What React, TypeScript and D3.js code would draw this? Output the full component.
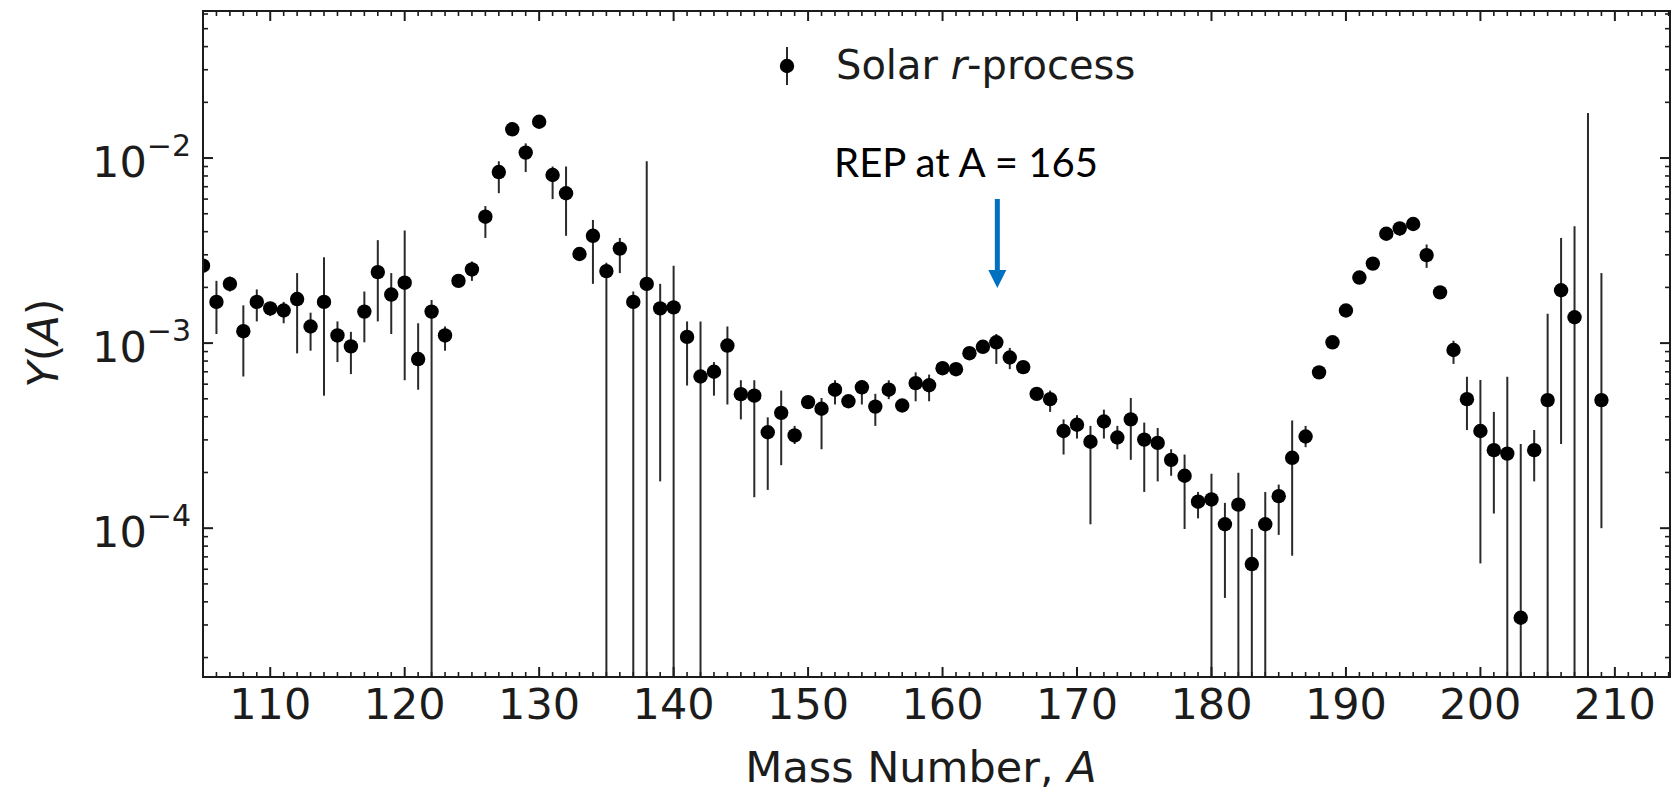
import React from "react";
import * as d3 from "d3";

// ---------- data ----------
const massNumbers = [
  105, 106, 107, 108, 109, 110, 111, 112, 113, 114, 115, 116, 117, 118, 119, 120,
  121, 122, 123, 124, 125, 126, 127, 128, 129, 130, 131, 132, 133, 134, 135, 136,
  137, 138, 139, 140, 141, 142, 143, 144, 145, 146, 147, 148, 149, 150, 151, 152,
  153, 154, 155, 156, 157, 158, 159, 160, 161, 162, 163, 164, 165, 166, 167, 168,
  169, 170, 171, 172, 173, 174, 175, 176, 177, 178, 179, 180, 181, 182, 183, 184,
  185, 186, 187, 188, 189, 190, 191, 192, 193, 194, 195, 196, 197, 198, 199, 200,
  201, 202, 203, 204, 205, 206, 207, 208, 209,
];

const yields = [
  2.62e-3, 1.67e-3, 2.09e-3, 1.16e-3, 1.67e-3, 1.54e-3, 1.5e-3, 1.73e-3, 1.23e-3, 1.67e-3, 1.1e-3, 9.6e-4, 1.48e-3, 2.42e-3, 1.83e-3, 2.12e-3,
  8.2e-4, 1.48e-3, 1.1e-3, 2.17e-3, 2.5e-3, 4.82e-3, 8.4e-3, 1.43e-2, 1.07e-2, 1.57e-2, 8.1e-3, 6.45e-3, 3.03e-3, 3.8e-3, 2.45e-3, 3.24e-3,
  1.67e-3, 2.09e-3, 1.54e-3, 1.56e-3, 1.08e-3, 6.6e-4, 7.0e-4, 9.7e-4, 5.3e-4, 5.2e-4, 3.3e-4, 4.2e-4, 3.17e-4, 4.8e-4, 4.42e-4, 5.6e-4,
  4.85e-4, 5.77e-4, 4.54e-4, 5.6e-4, 4.6e-4, 6.08e-4, 5.92e-4, 7.32e-4, 7.23e-4, 8.82e-4, 9.55e-4, 1.01e-3, 8.36e-4, 7.42e-4, 5.32e-4, 4.98e-4,
  3.35e-4, 3.62e-4, 2.93e-4, 3.77e-4, 3.09e-4, 3.87e-4, 3.01e-4, 2.89e-4, 2.34e-4, 1.92e-4, 1.39e-4, 1.43e-4, 1.05e-4, 1.34e-4, 6.4e-5, 1.05e-4,
  1.49e-4, 2.4e-4, 3.13e-4, 6.95e-4, 1.01e-3, 1.5e-3, 2.26e-3, 2.69e-3, 3.9e-3, 4.17e-3, 4.4e-3, 2.99e-3, 1.88e-3, 9.18e-4, 4.98e-4, 3.35e-4,
  2.64e-4, 2.53e-4, 3.28e-5, 2.64e-4, 4.92e-4, 1.93e-3, 1.38e-3, 1e-6, 4.92e-4,
];

// upper end of each error bar (null = bar hidden behind the marker)
const errUpper = [
  null, 2.17e-3, 2.29e-3, 1.6e-3, 1.95e-3, 1.67e-3, 1.67e-3, 2.39e-3, 1.46e-3, 2.91e-3, 1.31e-3, 1.15e-3, 1.9e-3, 3.6e-3, 2.39e-3, 4.06e-3,
  1.28e-3, 1.71e-3, 1.23e-3, null, 2.76e-3, 5.5e-3, 9.6e-3, 1.55e-2, 1.2e-2, 1.65e-2, 9.0e-3, 9.0e-3, null, 4.63e-3, 2.72e-3, 3.7e-3,
  1.9e-3, 9.6e-3, 2.09e-3, 2.62e-3, 1.31e-3, 1.31e-3, 7.9e-4, 1.23e-3, 6.3e-4, 6.3e-4, 3.97e-4, 5.54e-4, 3.57e-4, null, 5.05e-4, 6.3e-4,
  null, 6.3e-4, 5.32e-4, 6.3e-4, null, 6.95e-4, 6.76e-4, null, null, null, null, 1.12e-3, 9.42e-4, null, null, 5.54e-4,
  3.87e-4, 4.08e-4, 3.57e-4, 4.37e-4, 3.57e-4, 5.05e-4, 3.72e-4, 3.48e-4, 2.67e-4, 2.5e-4, 1.57e-4, 1.97e-4, 1.37e-4, 1.99e-4, 9.9e-5, 1.57e-4,
  1.72e-4, 3.82e-4, 3.57e-4, null, null, null, null, null, null, 4.5e-3, 4.7e-3, 3.41e-3, null, 1.03e-3, 6.58e-4, 6.32e-4,
  4.25e-4, 6.58e-4, 2.85e-4, 3.39e-4, 1.44e-3, 3.7e-3, 4.28e-3, 1.75e-2, 2.39e-3,
];

// lower end of each error bar (1e-6 = runs off the bottom of the axes)
const errLower = [
  null, 1.12e-3, 1.9e-3, 6.6e-4, 1.31e-3, 1.4e-3, 1.28e-3, 8.8e-4, 9.1e-4, 5.2e-4, 7.9e-4, 6.8e-4, 1.01e-3, 1.31e-3, 1.12e-3, 6.3e-4,
  5.6e-4, 1e-6, 9.1e-4, null, 2.17e-3, 3.7e-3, 6.46e-3, 1.33e-2, 8.4e-3, 1.5e-2, 6.0e-3, 3.8e-3, null, 2.09e-3, 1e-6, 2.39e-3,
  1e-6, 1e-6, 1.79e-4, 1e-6, 5.9e-4, 1e-6, 5.2e-4, 4.66e-4, 3.87e-4, 1.47e-4, 1.61e-4, 2.19e-4, 2.85e-4, null, 2.67e-4, 4.66e-4,
  null, 4.66e-4, 3.57e-4, 4.98e-4, null, 4.85e-4, 4.85e-4, null, null, null, null, 7.72e-4, 7.23e-4, null, null, 4.25e-4,
  2.5e-4, 3.05e-4, 1.05e-4, 3.05e-4, 2.67e-4, 2.34e-4, 1.57e-4, 1.79e-4, 1.92e-4, 9.9e-5, 1.13e-4, 1e-6, 4.2e-5, 1e-6, 1e-6, 1e-6,
  9.2e-5, 7.1e-5, 2.74e-4, null, null, null, null, null, null, 3.8e-3, 4.1e-3, 2.55e-3, null, 7.72e-4, 3.39e-4, 6.45e-5,
  1.2e-4, 1e-6, 1e-6, 1.79e-4, 1e-6, 2.85e-4, 1e-6, 1e-6, 1.0e-4,
];

const xTickValues = [110, 120, 130, 140, 150, 160, 170, 180, 190, 200, 210];
const yMajorTicks = [1e-2, 1e-3, 1e-4];
const yMajorExponents = ["−2", "−3", "−4"];
const xDomain = [105, 214.1];
const yDomain = [0.0623, 1.57e-5];

const legendLabel = "Solar ";
const legendItalic = "r";
const legendRest = "-process";
const annotationText = "REP at A = 165";
const annotationMass = 164;

// ---------- layout ----------
const W = 1672;
const H = 794;
const left = 203;
const right = 1670;
const top = 11;
const bottom = 677;
const INK = "#1c1c1c";
const FONT = "'DejaVu Sans', sans-serif";

export default function App() {
  const x = d3.scaleLinear().domain(xDomain).range([left, right]);
  const y = d3.scaleLog().domain(yDomain).range([top, bottom]);

  const xMinor = d3.range(Math.ceil(xDomain[0]), Math.floor(xDomain[1]) + 1).filter((v) => v % 10 !== 0);
  const yMinor: number[] = [];
  for (let e = -6; e <= -1; e++) {
    for (let m = 2; m <= 9; m++) {
      const v = m * Math.pow(10, e);
      if (v <= yDomain[0] && v >= yDomain[1]) yMinor.push(v);
    }
  }

  const points = massNumbers.map((a, i) => ({
    a,
    v: yields[i],
    hi: errUpper[i],
    lo: errLower[i],
  }));

  return (
    <svg width={W} height={H} style={{ position: "absolute", left: 0, top: 0, background: "#fff" }} fontFamily={FONT}>
      <rect x={0} y={0} width={W} height={H} fill="#fff" />
      <defs>
        <clipPath id="plotClip">
          <rect x={left} y={top} width={right - left} height={bottom - top} />
        </clipPath>
      </defs>

      {/* data */}
      <g clipPath="url(#plotClip)">
        {points.map((p) =>
          p.hi != null && p.lo != null ? (
            <line
              key={"e" + p.a}
              x1={x(p.a)}
              x2={x(p.a)}
              y1={y(Math.max(p.lo, 1e-7))}
              y2={y(p.hi)}
              stroke="#2a2a2a"
              strokeWidth={2}
            />
          ) : null
        )}
        {points.map((p) => (
          <circle key={"m" + p.a} cx={x(p.a)} cy={y(p.v)} r={7.2} fill="#000" />
        ))}
      </g>

      {/* frame */}
      <rect x={left} y={top} width={right - left} height={bottom - top} fill="none" stroke={INK} strokeWidth={2} />

      {/* x ticks (bottom + top, inward) */}
      {xTickValues.map((v) => (
        <g key={"xt" + v}>
          <line x1={x(v)} x2={x(v)} y1={bottom} y2={bottom - 10} stroke={INK} strokeWidth={2} />
          <line x1={x(v)} x2={x(v)} y1={top} y2={top + 10} stroke={INK} strokeWidth={2} />
          <text x={x(v)} y={719} textAnchor="middle" fontSize={43} fill={INK}>
            {v}
          </text>
        </g>
      ))}
      {xMinor.map((v) => (
        <g key={"xm" + v}>
          <line x1={x(v)} x2={x(v)} y1={bottom} y2={bottom - 5} stroke={INK} strokeWidth={1.6} />
          <line x1={x(v)} x2={x(v)} y1={top} y2={top + 5} stroke={INK} strokeWidth={1.6} />
        </g>
      ))}

      {/* y ticks (left + right, inward) */}
      {yMajorTicks.map((v, i) => (
        <g key={"yt" + v}>
          <line x1={left} x2={left + 10} y1={y(v)} y2={y(v)} stroke={INK} strokeWidth={2} />
          <line x1={right} x2={right - 10} y1={y(v)} y2={y(v)} stroke={INK} strokeWidth={2} />
          <text x={191} y={y(v) + 19} textAnchor="end" fontSize={43} fill={INK}>
            10
            <tspan dy={-21} fontSize={30}>
              {yMajorExponents[i]}
            </tspan>
          </text>
        </g>
      ))}
      {yMinor.map((v) => (
        <g key={"ym" + v}>
          <line x1={left} x2={left + 5} y1={y(v)} y2={y(v)} stroke={INK} strokeWidth={1.6} />
          <line x1={right} x2={right - 5} y1={y(v)} y2={y(v)} stroke={INK} strokeWidth={1.6} />
        </g>
      ))}

      {/* axis labels */}
      <text x={921} y={782} textAnchor="middle" fontSize={43} fill={INK}>
        Mass Number, <tspan fontStyle="italic">A</tspan>
      </text>
      <text transform="translate(58,343) rotate(-90)" textAnchor="middle" fontSize={43} fill={INK}>
        <tspan fontStyle="italic">Y</tspan>(<tspan fontStyle="italic">A</tspan>)
      </text>

      {/* legend */}
      <line x1={787} x2={787} y1={47} y2={85} stroke="#2a2a2a" strokeWidth={2} />
      <circle cx={787} cy={66} r={7.2} fill="#000" />
      <text x={836} y={79} fontSize={40} fill={INK}>
        {legendLabel}
        <tspan fontStyle="italic">{legendItalic}</tspan>
        {legendRest}
      </text>

      {/* annotation */}
      <text
        x={834}
        y={177}
        fontSize={41}
        fontFamily="Lato, 'Open Sans', sans-serif"
        fill="#000"
        textLength={264}
        lengthAdjust="spacingAndGlyphs"
      >
        {annotationText}
      </text>
      <line
        x1={x(annotationMass) + 1}
        x2={x(annotationMass) + 1}
        y1={199}
        y2={272}
        stroke="#0070C0"
        strokeWidth={5}
      />
      <polygon
        points={`${x(annotationMass) - 8},${270} ${x(annotationMass) + 10},${270} ${x(annotationMass) + 1},${288}`}
        fill="#0070C0"
      />
    </svg>
  );
}
